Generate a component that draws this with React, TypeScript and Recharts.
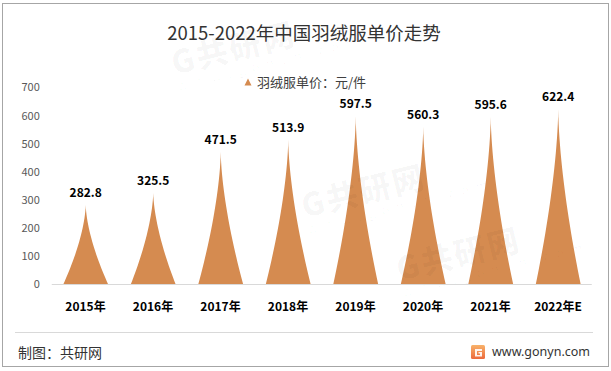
import React from "react";
import { BarChart, Bar, XAxis, YAxis, LabelList } from "recharts";

const years = ["2015年", "2016年", "2017年", "2018年", "2019年", "2020年", "2021年", "2022年E"];
const prices = [282.8, 325.5, 471.5, 513.9, 597.5, 560.3, 595.6, 622.4];
const yTicks = [0, 100, 200, 300, 400, 500, 600, 700];

const data = years.map((year, i) => ({ year, price: prices[i] }));

const FONT = '"Noto Sans CJK SC", "Noto Sans", sans-serif';
const ORANGE = "#D58B50";

// concave spike, narrow at the tip and flaring at the base
function Spike(props: any) {
  const { x, y, width, height, fill } = props;
  if (!height || height <= 0) return null;
  const bottom = y + height;
  const cx = x + width / 2;
  const steps = 24;
  const left: string[] = [];
  const right: string[] = [];
  for (let i = 0; i <= steps; i++) {
    const f = i / steps;
    const half = (width / 2) * Math.pow(1 - f, 1.6);
    const py = bottom - f * height;
    left.push(`${(cx - half).toFixed(2)},${py.toFixed(2)}`);
    right.unshift(`${(cx + half).toFixed(2)},${py.toFixed(2)}`);
  }
  const d = `M${left.join(" L")} L${right.join(" L")} Z`;
  return <path d={d} fill={fill} />;
}

function Watermark({ left, top }: { left: number; top: number }) {
  return (
    <div
      style={{
        position: "absolute",
        left,
        top,
        transform: "rotate(-14deg)",
        color: "rgba(0,0,0,0.03)",
        fontFamily: FONT,
        lineHeight: 1,
        pointerEvents: "none",
      }}
    >
      <div style={{ fontSize: 32, fontWeight: 900, letterSpacing: 2 }}>G共研网</div>
      <div style={{ fontSize: 13, letterSpacing: 7, marginTop: 2 }}>www.gonyn.com</div>
    </div>
  );
}

export default function App() {
  return (
    <div
      style={{
        position: "absolute",
        left: 0,
        top: 0,
        width: 611,
        height: 371,
        background: "#fff",
        fontFamily: FONT,
        overflow: "hidden",
      }}
    >
      <div
        style={{
          position: "absolute",
          left: 2,
          top: 3,
          width: 605,
          height: 362,
          border: "1px solid #a6a6a6",
        }}
      />

      <div
        style={{
          position: "absolute",
          left: 0,
          width: 608,
          top: 18,
          textAlign: "center",
          fontSize: 18.5,
          color: "#333",
          lineHeight: "28px",
        }}
      >
        2015-2022年中国羽绒服单价走势
      </div>

      <div
        style={{
          position: "absolute",
          left: 244,
          top: 73,
          display: "flex",
          alignItems: "center",
          fontSize: 13,
          color: "#404040",
          lineHeight: "18px",
        }}
      >
        <svg width={8} height={8} style={{ marginRight: 5 }}>
          <path d="M4,0.5 L7.5,7.5 L0.5,7.5 Z" fill={ORANGE} />
        </svg>
        羽绒服单价：元/件
      </div>

      <div style={{ position: "absolute", left: 0, top: 0 }}>
        <BarChart
          width={611}
          height={371}
          data={data}
          margin={{ top: 87.5, right: 19.25, bottom: 56.5, left: 0 }}
          barCategoryGap="17%"
        >
          <YAxis
            width={51.75}
            domain={[0, 700]}
            ticks={yTicks}
            axisLine={false}
            tickLine={false}
            tickSize={0}
            tickMargin={12}
            tick={{ fill: "#595959", fontSize: 11, fontFamily: FONT }}
          />
          <XAxis
            dataKey="year"
            height={30}
            axisLine={{ stroke: "#d9d9d9" }}
            tickLine={false}
            tickSize={0}
            tickMargin={18}
            interval={0}
            tick={{ fill: "#000", fontSize: 12, fontWeight: "bold", fontFamily: FONT }}
          />
          <Bar dataKey="price" fill={ORANGE} shape={<Spike />} isAnimationActive={false}>
            <LabelList
              dataKey="price"
              position="top"
              offset={8}
              formatter={(v: any) => Number(v).toFixed(1)}
              style={{ fill: "#000", fontSize: 12, fontWeight: "bold", fontFamily: FONT }}
            />
          </Bar>
        </BarChart>
      </div>

      <Watermark left={170} top={22} />
      <Watermark left={300} top={165} />
      <Watermark left={395} top={228} />

      <div
        style={{
          position: "absolute",
          left: 15,
          top: 332,
          width: 578,
          height: 1,
          background: "#d9d9d9",
        }}
      />
      <div
        style={{
          position: "absolute",
          left: 18,
          top: 342,
          fontSize: 14,
          color: "#333",
          lineHeight: "20px",
        }}
      >
        制图：共研网
      </div>
      <div
        style={{
          position: "absolute",
          left: 471,
          top: 342,
          display: "flex",
          alignItems: "center",
          lineHeight: "20px",
          fontSize: 12.5,
          color: "#333",
          fontFamily: '"Noto Sans", sans-serif',
        }}
      >
        <svg width={14} height={14} style={{ marginRight: 7 }}>
          <defs>
            <linearGradient id="lg" x1="0" y1="0" x2="0" y2="1">
              <stop offset="0" stopColor="#f8b26a" />
              <stop offset="1" stopColor="#ec6a3c" />
            </linearGradient>
          </defs>
          <rect x={0} y={0} width={14} height={14} rx={1.5} fill="url(#lg)" />
          <path d="M4,4 H11 V6 H6 V10 H9 V8.5 H7.5 V7 H11 V11.5 H4 Z" fill="#fff" opacity={0.9} />
        </svg>
        www.gonyn.com
      </div>
    </div>
  );
}
